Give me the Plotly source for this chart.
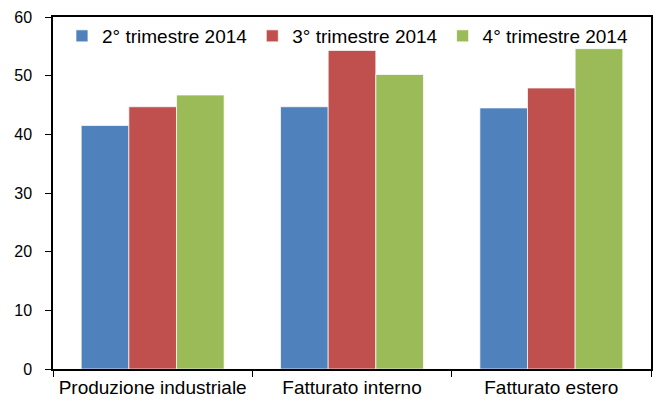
import plotly.graph_objects as go

categories = ["Produzione industriale", "Fatturato interno", "Fatturato estero"]
series_names = ["2° trimestre 2014", "3° trimestre 2014", "4° trimestre 2014"]
q2_2014 = [41.5, 44.7, 44.5]
q3_2014 = [44.7, 54.3, 47.9]
q4_2014 = [46.7, 50.2, 54.6]
y_ticks = [0, 10, 20, 30, 40, 50, 60]

colors = ["#4F81BD", "#C0504D", "#9BBB59"]
font_family = "Liberation Sans, Arial, sans-serif"

fig = go.Figure()
for name, vals, col in zip(series_names, [q2_2014, q3_2014, q4_2014], colors):
    fig.add_trace(go.Bar(
        x=categories, y=vals, name=name,
        marker=dict(color=col, line=dict(color="rgba(255,255,255,0.7)", width=1)),
    ))

fig.update_layout(
    width=658, height=401,
    margin=dict(l=53, r=7, t=17, b=32),
    paper_bgcolor="white", plot_bgcolor="white",
    barmode="group", bargap=0.283, bargroupgap=0,
    font=dict(family=font_family, size=17, color="black"),
    showlegend=True,
    legend=dict(
        orientation="h", x=0.015, y=1.0, xanchor="left", yanchor="top",
        bgcolor="rgba(0,0,0,0)", font=dict(size=19),
        itemwidth=30, tracegroupgap=0,
    ),
)
fig.update_xaxes(
    showline=True, linecolor="black", linewidth=1.5, mirror=True,
    ticks="outside", tickson="boundaries", ticklen=6, tickcolor="black",
    tickfont=dict(size=19), showgrid=False, automargin=False,
)
fig.update_yaxes(
    range=[0, 60], tickvals=y_ticks, showline=True, linecolor="black",
    linewidth=1.5, mirror=True, ticks="outside", ticklen=6, tickcolor="black",
    tickfont=dict(size=16), showgrid=False, zeroline=False, automargin=False,
    ticklabelstandoff=10,
)

fig.write_html(
    "out.html",
    config={"displayModeBar": False},
    post_script="document.body.style.margin='0';document.body.style.overflow='hidden';",
)
